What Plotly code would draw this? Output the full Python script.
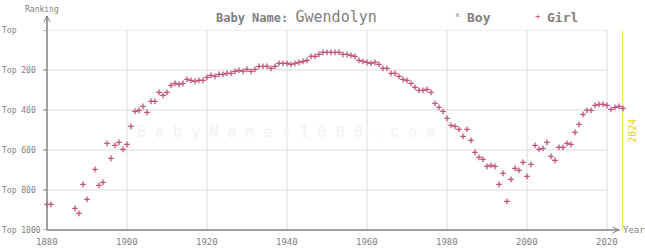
import plotly.graph_objects as go

girl_years = [1880, 1881, 1887, 1888, 1889, 1890] + list(range(1892, 2025))
girl_ranks = [
    872, 872, 892, 917, 772, 847,
    697, 777, 762, 567, 642, 577, 562, 597, 572, 482,  # 1892-1901
    407, 402, 382, 412, 357, 357, 312, 327, 312, 277,  # 1902-1911
    267, 272, 267, 247, 252, 257, 252, 252, 237, 227,  # 1912-1921
    232, 222, 222, 217, 217, 207, 202, 207, 197, 207,  # 1922-1931
    197, 182, 182, 182, 192, 182, 167, 167, 167, 172,  # 1932-1941
    167, 162, 157, 152, 132, 132, 122, 112, 112, 112,  # 1942-1951
    112, 112, 122, 122, 127, 132, 152, 157, 162, 167,  # 1952-1961
    162, 172, 192, 192, 217, 217, 232, 247, 252, 267,  # 1962-1971
    287, 302, 302, 297, 312, 367, 387, 407, 442, 477,  # 1972-1981
    482, 497, 532, 497, 552, 612, 637, 647, 682, 677,  # 1982-1991
    682, 772, 717, 857, 747, 692, 702, 662, 732, 672,  # 1992-2001
    577, 597, 592, 562, 632, 652, 587, 587, 567, 572,  # 2002-2011
    512, 472, 422, 402, 402, 377, 372, 372, 377, 397,  # 2012-2021
    387, 382, 392,                                     # 2022-2024
]
boy_years = []
boy_ranks = []

x_ticks = list(range(1880, 2021, 20))
y_ticks = [0, 200, 400, 600, 800, 1000]
y_tick_labels = ["Top", "Top 200", "Top 400", "Top 600", "Top 800", "Top 1000"]

GIRL = "#c4507e"
BOY = "#8090b0"
GRID = "#dcdcdc"
AXIS = "#808080"
TXT = "#808080"
MONO = "DejaVu Sans Mono"

# pixel geometry
L, R, T, B = 47.3, 623.3, 30, 230
W, H = 645, 250


def px(x):
    return (x - L) / (R - L)


def py(y):
    return (B - y) / (B - T)


fig = go.Figure()
fig.add_trace(go.Scatter(
    x=boy_years, y=boy_ranks, mode="markers", name="Boy",
    marker=dict(symbol="x-thin", size=4, line=dict(color=BOY, width=1.3)),
    showlegend=False,
))
fig.add_trace(go.Scatter(
    x=girl_years, y=girl_ranks, mode="markers", name="Girl",
    marker=dict(symbol="cross-thin", size=4, color=GIRL, line=dict(color=GIRL, width=1.3)),
    showlegend=False, cliponaxis=False,
))

shapes = []
# vertical grid
for yr in x_ticks[1:]:
    shapes.append(dict(type="line", xref="x", yref="y", x0=yr, x1=yr, y0=0, y1=1000,
                       line=dict(color=GRID, width=1), layer="below"))
# horizontal grid up to 2020
for r in y_ticks[:-1]:
    shapes.append(dict(type="line", xref="x", yref="y", x0=1880, x1=2020, y0=r, y1=r,
                       line=dict(color=GRID, width=1), layer="below"))
# 2024 marker line
shapes.append(dict(type="line", xref="x", yref="y", x0=2024, x1=2024, y0=0, y1=1000,
                   line=dict(color="#f0d020", width=1.5), layer="below"))
# y axis line with arrow
shapes.append(dict(type="line", xref="paper", yref="paper", x0=0, x1=0, y0=py(B), y1=py(16),
                   line=dict(color=AXIS, width=1.5)))
shapes.append(dict(type="path", xref="paper", yref="paper",
                   path=f"M {px(L-3)},{py(22)} L {px(L)},{py(16)} L {px(L+3)},{py(22)}",
                   line=dict(color=AXIS, width=1)))
# x axis line with arrow
shapes.append(dict(type="line", xref="paper", yref="paper", x0=0, x1=px(620), y0=0, y1=0,
                   line=dict(color=AXIS, width=1.5)))
shapes.append(dict(type="path", xref="paper", yref="paper",
                   path=f"M {px(613)},{py(227)} L {px(619)},{py(230)} L {px(613)},{py(233)}",
                   line=dict(color=AXIS, width=1)))
# y ticks
for r in y_ticks:
    shapes.append(dict(type="line", xref="paper", yref="y", x0=px(L-4), x1=0, y0=r, y1=r,
                       line=dict(color=AXIS, width=1)))

annotations = []
for r, lab in zip(y_ticks, y_tick_labels):
    annotations.append(dict(x=px(0), y=py(T + r * 0.2), xref="paper", yref="paper",
                            text=lab, showarrow=False, xanchor="left", yanchor="middle",
                            font=dict(family=MONO, size=8, color=TXT)))
for yr in x_ticks:
    annotations.append(dict(x=yr, y=py(242), xref="x", yref="paper", text=str(yr),
                            showarrow=False, xanchor="center", yanchor="middle",
                            font=dict(family=MONO, size=9, color=TXT)))
annotations += [
    dict(x=px(42), y=py(9), xref="paper", yref="paper", text="Ranking", showarrow=False,
         xanchor="center", yanchor="middle", font=dict(family=MONO, size=8, color=TXT)),
    dict(x=px(621), y=py(230), xref="paper", yref="paper", text="Year", showarrow=False,
         xanchor="left", yanchor="middle", font=dict(family=MONO, size=9, color=TXT)),
    dict(x=px(632), y=py(131), xref="paper", yref="paper", text="2024", showarrow=False,
         textangle=-90, xanchor="center", yanchor="middle",
         font=dict(family=MONO, size=10, color="#f0d020")),
    dict(x=px(297), y=py(17), xref="paper", yref="paper",
         text="<b>Baby Name:</b> <span style='font-size:15px'>Gwendolyn</span>",
         showarrow=False, xanchor="center", yanchor="middle",
         font=dict(family=MONO, size=12, color=TXT)),
    dict(x=px(458), y=py(16), xref="paper", yref="paper", text="×", showarrow=False,
         xanchor="center", yanchor="middle", font=dict(family=MONO, size=8, color=BOY)),
    dict(x=px(465), y=py(17), xref="paper", yref="paper", text="<b>Boy</b>", showarrow=False,
         xanchor="left", yanchor="middle", font=dict(family=MONO, size=13, color=TXT)),
    dict(x=px(538), y=py(16), xref="paper", yref="paper", text="+", showarrow=False,
         xanchor="center", yanchor="middle", font=dict(family=MONO, size=9, color=GIRL)),
    dict(x=px(545), y=py(17), xref="paper", yref="paper", text="<b>Girl</b>", showarrow=False,
         xanchor="left", yanchor="middle", font=dict(family=MONO, size=13, color=TXT)),
    dict(x=px(286), y=py(132), xref="paper", yref="paper",
         text="B a b y N a m e s 1 0 0 0 . c o m", showarrow=False,
         xanchor="center", yanchor="middle", font=dict(family=MONO, size=15, color="#f2f2f2")),
]

fig.update_layout(
    width=W, height=H,
    margin=dict(l=L, r=W - R, t=T, b=H - B, pad=0, autoexpand=False),
    paper_bgcolor="white", plot_bgcolor="white",
    xaxis=dict(range=[1880, 2024], showgrid=False, zeroline=False, showline=False,
               showticklabels=False, ticks="", automargin=False),
    yaxis=dict(range=[1000, 0], showgrid=False, zeroline=False, showline=False,
               showticklabels=False, ticks="", automargin=False),
    shapes=shapes, annotations=annotations, showlegend=False,
)

fig.write_html("out.html")
